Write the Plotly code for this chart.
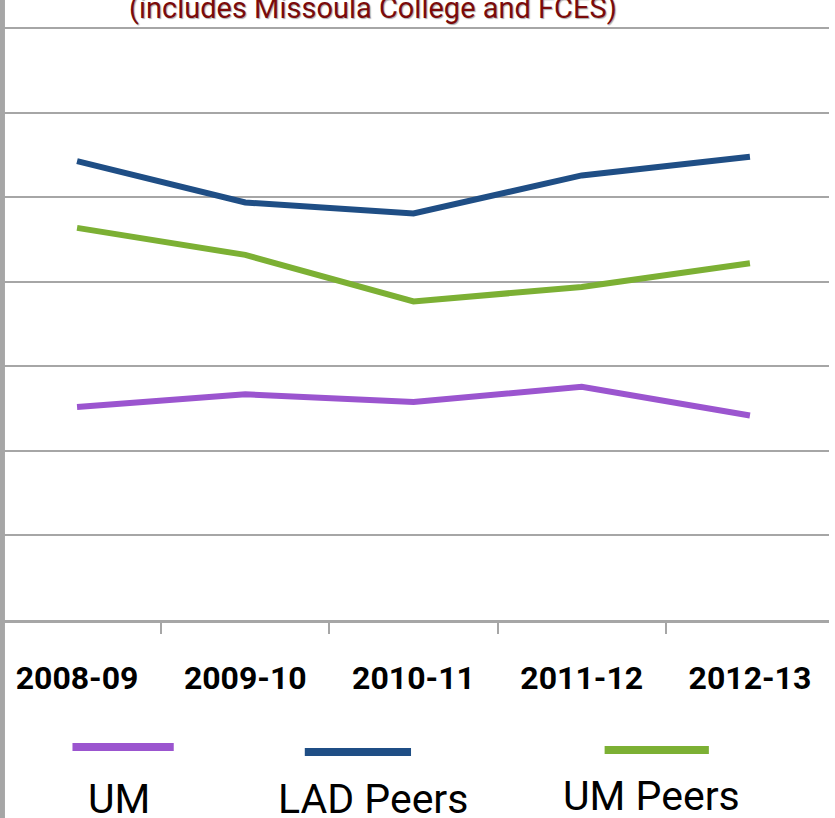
import plotly.graph_objects as go

years = ["2008-09", "2009-10", "2010-11", "2011-12", "2012-13"]
series_names = ["UM", "LAD Peers", "UM Peers"]
um = [2.52, 2.67, 2.58, 2.76, 2.42]
lad_peers = [5.43, 4.94, 4.81, 5.26, 5.48]
um_peers = [4.64, 4.32, 3.77, 3.94, 4.22]
colors = ["#9b55cf", "#1f4e85", "#7cb034"]
subtitle = "(includes Missoula College and FCES)"

W, H = 835, 818
T, B, R = 25, 198, 6
plot_h = H - T - B
fig = go.Figure()
for name, vals, c in zip(series_names, [um, lad_peers, um_peers], colors):
    fig.add_trace(go.Scatter(x=years, y=vals, mode="lines", name=name,
                             line=dict(color=c, width=6), showlegend=False))

fig.update_layout(
    width=W, height=H,
    margin=dict(l=0, r=R, t=T, b=B),
    paper_bgcolor="white", plot_bgcolor="white",
    xaxis=dict(type="category", range=[-0.458, 4.47], tickson="boundaries",
               ticks="outside", ticklen=11, tickcolor="#a6a6a6", tickwidth=2,
               showline=True, linecolor="#a6a6a6", linewidth=3,
               showgrid=False, ticklabelstandoff=28,
               tickfont=dict(family="Roboto", size=32, color="black", weight="bold")),
    yaxis=dict(range=[0, 7.04], dtick=1, showgrid=True, gridcolor="#a6a6a6",
               gridwidth=2, showticklabels=False, zeroline=False, showline=False),
)


def py(p):
    return (H - B - p) / plot_h


# left border bar
fig.add_shape(type="rect", xref="paper", yref="paper", x0=0, x1=5 / W, y0=-1, y1=2,
              fillcolor="#a6a6a6", line_width=0, layer="above")

# subtitle (cut at top)
fig.add_annotation(text=subtitle, xref="paper", yref="paper", x=376 / W,
                   y=py(7.5), yanchor="middle", xanchor="center",
                   showarrow=False,
                   font=dict(family="Roboto", size=29, color="#7b0a0a",
                             shadow="1px 1px 1px #aaaaaa"))

# legend swatches and labels
sw = [(73, 175, 747), (307, 414, 752), (609, 714, 750)]
lab = [(120, 799), (376, 799), (656, 796)]
for name, c, (x0, x1, yy), (lx, ly) in zip(series_names, colors, sw, lab):
    fig.add_shape(type="line", xref="paper", yref="paper",
                  x0=x0 / W, x1=x1 / W, y0=py(yy), y1=py(yy),
                  line=dict(color=c, width=8))
    fig.add_annotation(text=name, xref="paper", yref="paper", x=lx / W,
                       y=py(ly), xanchor="center", yanchor="middle",
                       showarrow=False, font=dict(family="Roboto", size=41, color="black"))

fig.write_html("out.html")
